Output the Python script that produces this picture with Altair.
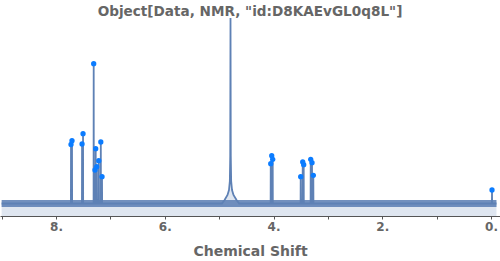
import altair as alt
import pandas as pd

# ---- data ----
peak_ppm = [7.724, 7.706, 7.521, 7.503, 7.307, 7.283, 7.270, 7.251, 7.214, 7.176, 7.154,
            4.051, 4.033, 4.015, 3.500, 3.463, 3.445, 3.316, 3.292, 3.268, -0.018]
peak_int = [71.5, 75.3, 72.0, 82.3, 152.3, 46.0, 67.3, 49.3, 55.3, 74.0, 39.3,
            52.3, 60.3, 56.7, 39.3, 54.0, 51.3, 56.7, 53.3, 40.7, 26.0]

water_ppm = [4.950, 4.900, 4.846, 4.819, 4.803, 4.796, 4.791, 4.786, 4.779, 4.763, 4.736, 4.680, 4.630]
water_int = [12.5, 16.0, 21.0, 26.0, 35.0, 60.0, 198.0, 60.0, 35.0, 26.0, 21.0, 16.0, 12.5]

baseline_level = 12.5
noise_lo = 9.0
noise_hi = 16.0
spec_start = 9.0
spec_end = -0.1

tick_values = [0, 0.5, 1, 1.5, 2, 2.5, 3, 3.5, 4, 4.5, 5, 5.5, 6, 6.5, 7, 7.5, 8, 8.5, 9]
x_domain = [-0.165, 9.03]

title_text = 'Object[Data, NMR, "id:D8KAEvGL0q8L"]'

# ---- build spectrum table ----
pts = [(spec_start, baseline_level), (spec_end, baseline_level)]
for p, v in zip(peak_ppm, peak_int):
    pts += [(p + 0.002, baseline_level), (p, v), (p - 0.002, baseline_level)]
pts += list(zip(water_ppm, water_int))
spec = pd.DataFrame(pts, columns=["ppm", "intensity"]).sort_values("ppm")

peaks = pd.DataFrame({"ppm": peak_ppm, "intensity": peak_int})
band = pd.DataFrame({"ppm": [spec_start, spec_end], "lo": [noise_lo] * 2, "hi": [noise_hi] * 2})

COL = "#5e81b5"
GRAY = "#666666"

x_enc = alt.X(
    "ppm:Q",
    scale=alt.Scale(domain=x_domain, reverse=True, nice=False, zero=False),
    axis=alt.Axis(
        title="Chemical Shift",
        values=tick_values,
        labelExpr="datum.value % 2 == 0 ? datum.value + '.' : ''",
        grid=False,
        domainColor="#555555",
        tickColor="#555555",
        tickSize=3,
        labelFont="DejaVu Sans",
        labelFontWeight="bold",
        labelFontSize=12,
        labelColor=GRAY,
        labelPadding=2,
        titleFont="DejaVu Sans",
        titleFontWeight="bold",
        titleFontSize=14,
        titleColor=GRAY,
        titlePadding=12,
    ),
)
y_scale = alt.Scale(domain=[0, 200], nice=False)

fill = alt.Chart(spec).mark_area(color=COL, opacity=0.2).encode(
    x=x_enc, y=alt.Y("intensity:Q", scale=y_scale, axis=None)
)
noise = alt.Chart(band).mark_area(color=COL, opacity=0.88).encode(
    x="ppm:Q", y=alt.Y("lo:Q", scale=y_scale), y2="hi:Q"
)
line = alt.Chart(spec).mark_line(color=COL, strokeWidth=1.8).encode(
    x="ppm:Q", y=alt.Y("intensity:Q", scale=y_scale)
)
dots = alt.Chart(peaks).mark_circle(color="#0b7cff", size=28, opacity=1).encode(
    x="ppm:Q", y=alt.Y("intensity:Q", scale=y_scale)
)

chart = (
    alt.layer(fill, noise, line, dots)
    .properties(
        width=500,
        height=200,
        title=alt.TitleParams(
            title_text, font="DejaVu Sans", fontWeight="bold", fontSize=13.6,
            color=GRAY, anchor="middle", offset=-4,
        ),
        autosize=alt.AutoSizeParams(type="none"),
        padding={"left": 0, "top": 16, "right": 0, "bottom": 45},
    )
    .configure_view(stroke=None)
)

chart.save("out.html", embed_options={"renderer": "svg", "actions": False})
